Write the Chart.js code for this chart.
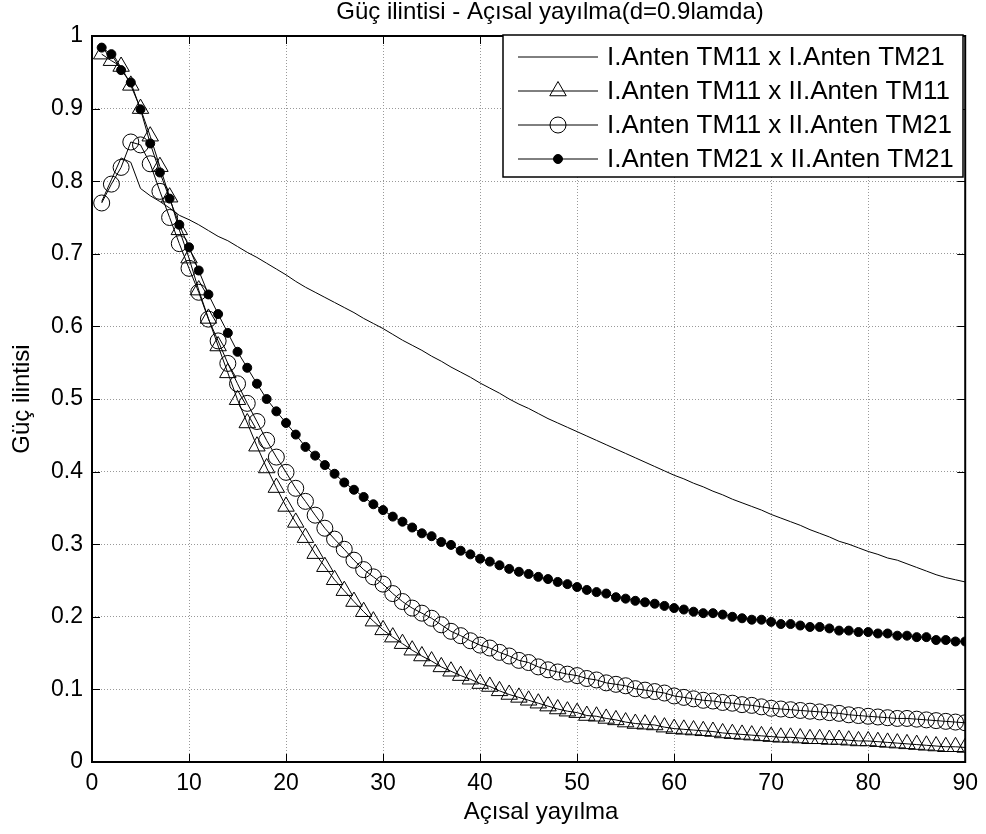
<!DOCTYPE html>
<html>
<head>
<meta charset="utf-8">
<script src="https://cdn.jsdelivr.net/npm/chart.js@4.4.0/dist/chart.umd.min.js"></script>
<style>
  html, body { margin: 0; padding: 0; background: #fff; }
</style>
</head>
<body>
<canvas id="chart" width="986" height="834"></canvas>
<script>
// x: Açısal yayılma (1..90)
var aciYayilma = [1,2,3,4,5,6,7,8,9,10,11,12,13,14,15,16,17,18,19,20,
  21,22,23,24,25,26,27,28,29,30,31,32,33,34,35,36,37,38,39,40,
  41,42,43,44,45,46,47,48,49,50,51,52,53,54,55,56,57,58,59,60,
  61,62,63,64,65,66,67,68,69,70,71,72,73,74,75,76,77,78,79,80,
  81,82,83,84,85,86,87,88,89,90];

// I.Anten TM11 x I.Anten TM21
var tm11_tm21 = [.772,.802,.832,.826,.790,.780,.772,.763,.753,.747,.740,.732,.724,.718,.710,.702,.695,.687,.679,.671,
  .662,.654,.647,.640,.633,.626,.619,.611,.604,.597,.589,.581,.574,.567,.559,.552,.544,.537,.530,.522,
  .515,.508,.500,.493,.487,.480,.473,.467,.461,.455,.449,.443,.437,.431,.425,.419,.413,.407,.401,.395,
  .390,.384,.379,.373,.368,.362,.357,.352,.347,.341,.336,.331,.326,.320,.315,.310,.304,.300,.295,.290,
  .286,.281,.278,.273,.268,.263,.258,.254,.251,.248];

// I.Anten TM11 x II.Anten TM11
var tm11_ii_tm11 = [.975,.966,.958,.932,.900,.862,.820,.778,.733,.694,.650,.611,.573,.536,.499,.467,.435,.405,.378,.352,
  .330,.309,.287,.269,.251,.236,.221,.207,.194,.182,.172,.163,.154,.146,.139,.131,.125,.119,.114,.108,
  .104,.098,.093,.089,.085,.081,.077,.073,.070,.068,.064,.063,.060,.058,.055,.053,.052,.051,.048,.046,
  .045,.044,.043,.042,.040,.039,.038,.037,.036,.035,.034,.034,.033,.032,.032,.031,.031,.030,.029,.029,
  .028,.027,.026,.025,.024,.023,.022,.021,.021,.020];

// I.Anten TM11 x II.Anten TM21
var tm11_ii_tm21 = [.770,.796,.819,.854,.850,.824,.786,.750,.714,.680,.647,.610,.580,.549,.521,.494,.469,.443,.420,.399,
  .377,.359,.340,.322,.307,.293,.278,.265,.255,.245,.232,.221,.212,.205,.198,.189,.180,.174,.167,.161,
  .157,.151,.146,.140,.137,.131,.127,.124,.121,.119,.115,.113,.109,.107,.105,.101,.099,.097,.095,.091,
  .089,.087,.085,.084,.082,.081,.079,.078,.076,.074,.073,.072,.071,.070,.069,.068,.067,.065,.064,.063,
  .062,.061,.060,.060,.059,.058,.057,.056,.055,.054];

// I.Anten TM21 x II.Anten TM21
var tm21_ii_tm21 = [.984,.975,.953,.936,.899,.852,.812,.776,.740,.709,.677,.644,.617,.591,.565,.543,.521,.500,.483,.467,
  .451,.434,.422,.409,.397,.385,.375,.365,.355,.347,.338,.331,.323,.315,.311,.303,.299,.291,.286,.280,
  .276,.271,.266,.262,.259,.255,.252,.248,.245,.241,.237,.234,.232,.227,.225,.222,.220,.218,.215,.212,
  .210,.207,.205,.205,.203,.200,.198,.196,.196,.193,.190,.190,.188,.186,.186,.184,.181,.181,.179,.179,
  .177,.177,.174,.174,.172,.172,.168,.168,.166,.166];

var seriesNames = ['I.Anten TM11 x I.Anten TM21', 'I.Anten TM11 x II.Anten TM11',
  'I.Anten TM11 x II.Anten TM21', 'I.Anten TM21 x II.Anten TM21'];

var chartTitle = 'Güç ilintisi - Açısal yayılma(d=0.9lamda)';
var xTitle = 'Açısal yayılma';
var yTitle = 'Güç ilintisi';

var fontFamily = "'Liberation Sans', Arial, sans-serif";

function toPoints(ys) {
  var pts = [];
  for (var i = 0; i < ys.length; i++) {
    pts.push({ x: aciYayilma[i], y: ys[i] });
  }
  return pts;
}

Chart.defaults.font.family = fontFamily;
Chart.defaults.color = '#000';

// MATLAB style box with inward ticks, under the data
var axesBox = {
  id: 'axesBox',
  beforeDatasetsDraw: function (chart) {
    var a = chart.chartArea, ctx = chart.ctx;
    var sx = chart.scales.x, sy = chart.scales.y;
    var len = 8;
    ctx.save();
    ctx.strokeStyle = '#000';
    ctx.lineWidth = 1;
    ctx.beginPath();
    sx.ticks.forEach(function (t) {
      var px = Math.round(sx.getPixelForValue(t.value)) + 0.5;
      ctx.moveTo(px, a.bottom); ctx.lineTo(px, a.bottom - len);
      ctx.moveTo(px, a.top); ctx.lineTo(px, a.top + len);
    });
    sy.ticks.forEach(function (t) {
      var py = Math.round(sy.getPixelForValue(t.value)) + 0.5;
      ctx.moveTo(a.left, py); ctx.lineTo(a.left + len, py);
      ctx.moveTo(a.right, py); ctx.lineTo(a.right - len, py);
    });
    ctx.stroke();
    ctx.lineWidth = 2;
    ctx.strokeRect(a.left, a.top, a.right - a.left, a.bottom - a.top);
    ctx.restore();
  }
};

// figure title and x label, placed as in the original figure
var figureText = {
  id: 'figureText',
  afterDraw: function (chart) {
    var ctx = chart.ctx;
    ctx.save();
    ctx.fillStyle = '#000';
    ctx.textAlign = 'center';
    ctx.textBaseline = 'middle';
    ctx.font = '24px ' + fontFamily;
    ctx.fillText(chartTitle, 550, 12);
    ctx.fillText(xTitle, 541, 812);
    ctx.restore();
  }
};

function drawMarker(ctx, style, r, x, y, filled) {
  ctx.beginPath();
  if (style === 'triangle') {
    ctx.moveTo(x, y - r);
    ctx.lineTo(x + r * 0.866, y + r * 0.5);
    ctx.lineTo(x - r * 0.866, y + r * 0.5);
    ctx.closePath();
  } else {
    ctx.arc(x, y, r, 0, Math.PI * 2);
  }
  if (filled) { ctx.fill(); }
  ctx.stroke();
}

var boxLegend = {
  id: 'boxLegend',
  afterDraw: function (chart) {
    var ctx = chart.ctx;
    var left = 503, top = 35, w = 460, h = 142;
    var rowY = [57, 91, 125, 159];
    ctx.save();
    ctx.fillStyle = '#fff';
    ctx.fillRect(left, top, w, h);
    ctx.strokeStyle = '#000';
    ctx.lineWidth = 1.5;
    ctx.strokeRect(left, top, w, h);
    ctx.font = '26px ' + fontFamily;
    ctx.textBaseline = 'middle';
    chart.data.datasets.forEach(function (ds, i) {
      var y = rowY[i];
      ctx.strokeStyle = '#000';
      ctx.lineWidth = 1;
      ctx.beginPath();
      ctx.moveTo(518, y); ctx.lineTo(598, y);
      ctx.stroke();
      if (ds.pointRadius > 0) {
        ctx.fillStyle = ds.pointBackgroundColor;
        drawMarker(ctx, ds.pointStyle, ds.pointRadius, 558, y, ds.pointBackgroundColor === '#000');
      }
      ctx.fillStyle = '#000';
      ctx.fillText(ds.label, 607, y + 1);
    });
    ctx.restore();
  }
};

new Chart(document.getElementById('chart'), {
  type: 'line',
  data: {
    datasets: [
      { label: seriesNames[0], data: toPoints(tm11_tm21), borderColor: '#000', borderWidth: 1,
        pointRadius: 0, tension: 0 },
      { label: seriesNames[1], data: toPoints(tm11_ii_tm11), borderColor: '#000', borderWidth: 1,
        pointStyle: 'triangle', pointRadius: 9.5, pointBorderWidth: 1,
        pointBorderColor: '#000', pointBackgroundColor: 'rgba(0,0,0,0)', tension: 0 },
      { label: seriesNames[2], data: toPoints(tm11_ii_tm21), borderColor: '#000', borderWidth: 1,
        pointStyle: 'circle', pointRadius: 8, pointBorderWidth: 1,
        pointBorderColor: '#000', pointBackgroundColor: 'rgba(0,0,0,0)', tension: 0 },
      { label: seriesNames[3], data: toPoints(tm21_ii_tm21), borderColor: '#000', borderWidth: 1,
        pointStyle: 'circle', pointRadius: 4.5, pointBorderWidth: 1,
        pointBorderColor: '#000', pointBackgroundColor: '#000', tension: 0 }
    ]
  },
  options: {
    responsive: false,
    animation: false,
    layout: { padding: { left: 0, right: 18, top: 36, bottom: 0 } },
    plugins: {
      legend: { display: false },
      tooltip: { enabled: false }
    },
    scales: {
      x: {
        type: 'linear', position: 'bottom', min: 0, max: 90,
        ticks: { stepSize: 10, padding: 8, font: { size: 23 } },
        grid: { color: '#999', drawTicks: false },
        border: { display: false, dash: [1, 2] },
        afterFit: function (s) { s.height = 72; }
      },
      y: {
        type: 'linear', min: 0, max: 1,
        ticks: { stepSize: 0.1, padding: 9, font: { size: 23 },
          callback: function (v) { return String(Math.round(v * 10) / 10); } },
        grid: { color: '#999', drawTicks: false },
        border: { display: false, dash: [1, 2] },
        title: { display: true, text: yTitle, font: { size: 24 }, padding: { top: 8, bottom: 0 } },
        afterFit: function (s) { s.width = 92; }
      }
    }
  },
  plugins: [axesBox, figureText, boxLegend]
});
</script>
</body>
</html>
